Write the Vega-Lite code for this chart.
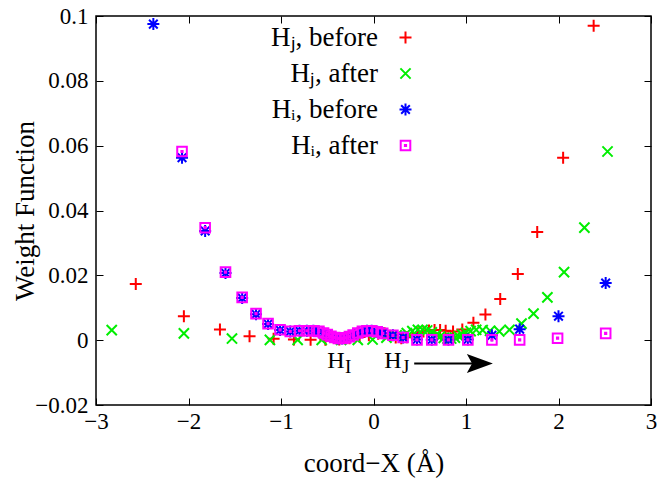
{
  "$schema": "https://vega.github.io/schema/vega-lite/v6.json",
  "width": 555,
  "height": 389,
  "autosize": {"type": "none"},
  "padding": {"left": 96, "top": 16, "right": 13, "bottom": 73},
  "background": "white",
  "config": {
    "view": {"stroke": "black", "strokeWidth": 1.5},
    "font": "Liberation Serif",
    "style": {
      "guide-label": {"font": "Liberation Serif", "fill": "black"},
      "guide-title": {"font": "Liberation Serif", "fill": "black"}
    },
    "axis": {
      "grid": false,
      "domain": false,
      "tickColor": "black",
      "tickWidth": 1,
      "labelFont": "Liberation Serif",
      "labelFontSize": 23,
      "labelColor": "black",
      "labelFlush": false,
      "labelOverlap": false,
      "titleFont": "Liberation Serif",
      "titleFontSize": 27,
      "titleFontWeight": "normal",
      "titleColor": "black"
    },
    "axisX": {"labelFont": "Liberation Serif", "labelFontSize": 23},
    "axisY": {"labelFont": "Liberation Serif", "labelFontSize": 23},
    "legend": {
      "orient": "none",
      "legendX": 296,
      "legendY": 8,
      "labelFont": "Liberation Serif",
      "labelFontSize": 27,
      "labelColor": "black",
      "labelAlign": "right",
      "labelOffset": -41,
      "labelLimit": 0,
      "symbolStrokeWidth": 2,
      "symbolSize": 144,
      "rowPadding": 8
    }
  },
  "datasets": {
    "weights": [
      {"series": "H_J, before", "x": -2.57, "y": 0.0173},
      {"series": "H_J, before", "x": -2.05, "y": 0.0074},
      {"series": "H_J, before", "x": -1.66, "y": 0.0033},
      {"series": "H_J, before", "x": -1.34, "y": 0.0012},
      {"series": "H_J, before", "x": -1.08, "y": 0.0004},
      {"series": "H_J, before", "x": -0.86, "y": 0.0002},
      {"series": "H_J, before", "x": -0.68, "y": 0.0001},
      {"series": "H_J, before", "x": -0.52, "y": 0.0001},
      {"series": "H_J, before", "x": -0.37, "y": 0.0002},
      {"series": "H_J, before", "x": -0.26, "y": 0.0006},
      {"series": "H_J, before", "x": -0.15, "y": 0.0010},
      {"series": "H_J, before", "x": -0.05, "y": 0.0015},
      {"series": "H_J, before", "x": 0.05, "y": 0.0020},
      {"series": "H_J, before", "x": 0.12, "y": 0.0021},
      {"series": "H_J, before", "x": 0.18, "y": 0.0014},
      {"series": "H_J, before", "x": 0.24, "y": 0.0008},
      {"series": "H_J, before", "x": 0.30, "y": 0.0006},
      {"series": "H_J, before", "x": 0.36, "y": 0.0009},
      {"series": "H_J, before", "x": 0.42, "y": 0.0015},
      {"series": "H_J, before", "x": 0.48, "y": 0.0021},
      {"series": "H_J, before", "x": 0.54, "y": 0.0027},
      {"series": "H_J, before", "x": 0.60, "y": 0.0030},
      {"series": "H_J, before", "x": 0.66, "y": 0.0031},
      {"series": "H_J, before", "x": 0.72, "y": 0.0031},
      {"series": "H_J, before", "x": 0.78, "y": 0.0029},
      {"series": "H_J, before", "x": 0.86, "y": 0.0027},
      {"series": "H_J, before", "x": 0.96, "y": 0.0033},
      {"series": "H_J, before", "x": 1.08, "y": 0.0054},
      {"series": "H_J, before", "x": 1.21, "y": 0.0079},
      {"series": "H_J, before", "x": 1.37, "y": 0.0127},
      {"series": "H_J, before", "x": 1.56, "y": 0.0204},
      {"series": "H_J, before", "x": 1.77, "y": 0.0334},
      {"series": "H_J, before", "x": 2.05, "y": 0.0563},
      {"series": "H_J, before", "x": 2.38, "y": 0.0970},

      {"series": "H_J, after", "x": -2.83, "y": 0.0031},
      {"series": "H_J, after", "x": -2.05, "y": 0.0021},
      {"series": "H_J, after", "x": -1.53, "y": 0.0005},
      {"series": "H_J, after", "x": -1.12, "y": 0.0001},
      {"series": "H_J, after", "x": -0.82, "y": 0.0001},
      {"series": "H_J, after", "x": -0.56, "y": 0.0001},
      {"series": "H_J, after", "x": -0.35, "y": 0.0001},
      {"series": "H_J, after", "x": -0.17, "y": 0.0001},
      {"series": "H_J, after", "x": -0.01, "y": 0.0002},
      {"series": "H_J, after", "x": 0.14, "y": 0.0008},
      {"series": "H_J, after", "x": 0.25, "y": 0.0015},
      {"series": "H_J, after", "x": 0.36, "y": 0.0022},
      {"series": "H_J, after", "x": 0.42, "y": 0.0028},
      {"series": "H_J, after", "x": 0.48, "y": 0.0032},
      {"series": "H_J, after", "x": 0.53, "y": 0.0032},
      {"series": "H_J, after", "x": 0.58, "y": 0.0030},
      {"series": "H_J, after", "x": 0.63, "y": 0.0024},
      {"series": "H_J, after", "x": 0.68, "y": 0.0017},
      {"series": "H_J, after", "x": 0.72, "y": 0.0011},
      {"series": "H_J, after", "x": 0.76, "y": 0.0007},
      {"series": "H_J, after", "x": 0.80, "y": 0.0005},
      {"series": "H_J, after", "x": 0.84, "y": 0.0005},
      {"series": "H_J, after", "x": 0.88, "y": 0.0008},
      {"series": "H_J, after", "x": 0.92, "y": 0.0012},
      {"series": "H_J, after", "x": 0.96, "y": 0.0017},
      {"series": "H_J, after", "x": 1.00, "y": 0.0023},
      {"series": "H_J, after", "x": 1.05, "y": 0.0028},
      {"series": "H_J, after", "x": 1.11, "y": 0.0032},
      {"series": "H_J, after", "x": 1.18, "y": 0.0031},
      {"series": "H_J, after", "x": 1.26, "y": 0.0029},
      {"series": "H_J, after", "x": 1.36, "y": 0.0027},
      {"series": "H_J, after", "x": 1.47, "y": 0.0032},
      {"series": "H_J, after", "x": 1.60, "y": 0.0051},
      {"series": "H_J, after", "x": 1.73, "y": 0.0082},
      {"series": "H_J, after", "x": 1.88, "y": 0.0132},
      {"series": "H_J, after", "x": 2.06, "y": 0.0210},
      {"series": "H_J, after", "x": 2.28, "y": 0.0347},
      {"series": "H_J, after", "x": 2.53, "y": 0.0582},

      {"series": "H_I, before", "x": -2.38, "y": 0.0975},
      {"series": "H_I, before", "x": -2.07, "y": 0.0563},
      {"series": "H_I, before", "x": -1.82, "y": 0.0337},
      {"series": "H_I, before", "x": -1.60, "y": 0.0207},
      {"series": "H_I, before", "x": -1.42, "y": 0.0130},
      {"series": "H_I, before", "x": -1.27, "y": 0.0080},
      {"series": "H_I, before", "x": -1.14, "y": 0.0050},
      {"series": "H_I, before", "x": -1.01, "y": 0.0031},
      {"series": "H_I, before", "x": -0.90, "y": 0.0027},
      {"series": "H_I, before", "x": -0.80, "y": 0.0029},
      {"series": "H_I, before", "x": -0.72, "y": 0.0029},
      {"series": "H_I, before", "x": -0.65, "y": 0.0029},
      {"series": "H_I, before", "x": -0.59, "y": 0.0027},
      {"series": "H_I, before", "x": -0.54, "y": 0.0022},
      {"series": "H_I, before", "x": -0.50, "y": 0.0017},
      {"series": "H_I, before", "x": -0.46, "y": 0.0012},
      {"series": "H_I, before", "x": -0.42, "y": 0.0008},
      {"series": "H_I, before", "x": -0.38, "y": 0.0005},
      {"series": "H_I, before", "x": -0.34, "y": 0.0005},
      {"series": "H_I, before", "x": -0.30, "y": 0.0007},
      {"series": "H_I, before", "x": -0.26, "y": 0.0011},
      {"series": "H_I, before", "x": -0.22, "y": 0.0016},
      {"series": "H_I, before", "x": -0.17, "y": 0.0022},
      {"series": "H_I, before", "x": -0.12, "y": 0.0027},
      {"series": "H_I, before", "x": -0.07, "y": 0.0029},
      {"series": "H_I, before", "x": -0.02, "y": 0.0029},
      {"series": "H_I, before", "x": 0.04, "y": 0.0026},
      {"series": "H_I, before", "x": 0.10, "y": 0.0021},
      {"series": "H_I, before", "x": 0.21, "y": 0.0015},
      {"series": "H_I, before", "x": 0.32, "y": 0.0008},
      {"series": "H_I, before", "x": 0.47, "y": 0.0002},
      {"series": "H_I, before", "x": 0.63, "y": 0.0001},
      {"series": "H_I, before", "x": 0.81, "y": 0.0001},
      {"series": "H_I, before", "x": 1.02, "y": 0.0002},
      {"series": "H_I, before", "x": 1.28, "y": 0.0015},
      {"series": "H_I, before", "x": 1.58, "y": 0.0034},
      {"series": "H_I, before", "x": 2.00, "y": 0.0074},
      {"series": "H_I, before", "x": 2.51, "y": 0.0176},

      {"series": "H_I, after", "x": -2.07, "y": 0.0582},
      {"series": "H_I, after", "x": -1.82, "y": 0.0347},
      {"series": "H_I, after", "x": -1.60, "y": 0.0210},
      {"series": "H_I, after", "x": -1.42, "y": 0.0132},
      {"series": "H_I, after", "x": -1.27, "y": 0.0082},
      {"series": "H_I, after", "x": -1.14, "y": 0.0051},
      {"series": "H_I, after", "x": -1.01, "y": 0.0032},
      {"series": "H_I, after", "x": -0.90, "y": 0.0027},
      {"series": "H_I, after", "x": -0.80, "y": 0.0029},
      {"series": "H_I, after", "x": -0.72, "y": 0.0029},
      {"series": "H_I, after", "x": -0.65, "y": 0.0029},
      {"series": "H_I, after", "x": -0.59, "y": 0.0027},
      {"series": "H_I, after", "x": -0.54, "y": 0.0022},
      {"series": "H_I, after", "x": -0.50, "y": 0.0017},
      {"series": "H_I, after", "x": -0.46, "y": 0.0012},
      {"series": "H_I, after", "x": -0.42, "y": 0.0008},
      {"series": "H_I, after", "x": -0.38, "y": 0.0005},
      {"series": "H_I, after", "x": -0.34, "y": 0.0005},
      {"series": "H_I, after", "x": -0.30, "y": 0.0007},
      {"series": "H_I, after", "x": -0.26, "y": 0.0011},
      {"series": "H_I, after", "x": -0.22, "y": 0.0016},
      {"series": "H_I, after", "x": -0.17, "y": 0.0022},
      {"series": "H_I, after", "x": -0.12, "y": 0.0027},
      {"series": "H_I, after", "x": -0.07, "y": 0.0029},
      {"series": "H_I, after", "x": -0.02, "y": 0.0029},
      {"series": "H_I, after", "x": 0.04, "y": 0.0026},
      {"series": "H_I, after", "x": 0.10, "y": 0.0021},
      {"series": "H_I, after", "x": 0.21, "y": 0.0015},
      {"series": "H_I, after", "x": 0.32, "y": 0.0008},
      {"series": "H_I, after", "x": 0.47, "y": 0.0001},
      {"series": "H_I, after", "x": 0.63, "y": 0.0001},
      {"series": "H_I, after", "x": 0.81, "y": 0.0001},
      {"series": "H_I, after", "x": 1.02, "y": 0.0001},
      {"series": "H_I, after", "x": 1.28, "y": 0.0001},
      {"series": "H_I, after", "x": 1.58, "y": 0.0001},
      {"series": "H_I, after", "x": 1.99, "y": 0.0006},
      {"series": "H_I, after", "x": 2.51, "y": 0.0021}
    ],
    "labels": [
      {"x": -0.405, "y": -0.0087, "main": "H", "sub": "I"},
      {"x": 0.21, "y": -0.0087, "main": "H", "sub": "J"}
    ],
    "arrow": [
      {"x": 0.44, "x2": 1.15, "y": -0.0072}
    ]
  },
  "resolve": {"axis": {"x": "independent", "y": "independent"}},
  "layer": [
    {
      "data": {"name": "weights"},
      "mark": {"type": "point", "filled": false, "strokeWidth": 2, "size": 144, "opacity": 1},
      "encoding": {
        "x": {
          "field": "x", "type": "quantitative",
          "scale": {"domain": [-3, 3], "nice": false, "zero": false},
          "axis": {"orient": "bottom", "values": [-3, -2, -1, 0, 1, 2, 3], "format": "~g", "tickSize": -7, "labelPadding": 12, "labelFont": "Liberation Serif", "labelFontSize": 23, "title": "coord−X (Å)", "titleFont": "Liberation Serif", "titleX": 277.5, "titleY": 58, "titleBaseline": "middle", "titleAlign": "center"}
        },
        "y": {
          "field": "y", "type": "quantitative",
          "scale": {"domain": [-0.02, 0.1], "nice": false, "zero": false},
          "axis": {"orient": "left", "values": [-0.02, 0, 0.02, 0.04, 0.06, 0.08, 0.1], "format": "~g", "tickSize": -7, "labelPadding": 15, "labelFont": "Liberation Serif", "labelFontSize": 23, "title": "Weight Function", "titleFont": "Liberation Serif", "titleX": -71, "titleY": 194.5, "titleBaseline": "middle", "titleAlign": "center", "titleAngle": -90}
        },
        "color": {
          "field": "series", "type": "nominal",
          "scale": {"domain": ["H_J, before", "H_J, after", "H_I, before", "H_I, after"], "range": ["#ff0000", "#00ee00", "#0000ff", "#ff00ff"]},
          "legend": {"title": null, "labelFont": "Liberation Serif", "labelExpr": "datum.label == 'H_J, before' ? 'Hⱼ, before' : datum.label == 'H_J, after' ? 'Hⱼ, after' : datum.label == 'H_I, before' ? 'Hᵢ, before' : 'Hᵢ, after'"}
        },
        "shape": {
          "field": "series", "type": "nominal",
          "scale": {"domain": ["H_J, before", "H_J, after", "H_I, before", "H_I, after"], "range": ["M-1,0L1,0M0,-1L0,1", "M-0.85,-0.85L0.85,0.85M-0.85,0.85L0.85,-0.85", "M-1,0L1,0M0,-1L0,1M-0.72,-0.72L0.72,0.72M-0.72,0.72L0.72,-0.72", "M-0.8,-0.8L0.8,-0.8L0.8,0.8L-0.8,0.8ZM-0.1,-0.1L0.1,-0.1L0.1,0.1L-0.1,0.1Z"]},
          "legend": {"title": null, "labelFont": "Liberation Serif", "labelExpr": "datum.label == 'H_J, before' ? 'Hⱼ, before' : datum.label == 'H_J, after' ? 'Hⱼ, after' : datum.label == 'H_I, before' ? 'Hᵢ, before' : 'Hᵢ, after'"}
        }
      }
    },
    {
      "data": {"name": "arrow"},
      "mark": {"type": "rule", "color": "black", "strokeWidth": 2},
      "encoding": {
        "x": {"field": "x", "type": "quantitative", "scale": {"domain": [-3, 3], "nice": false, "zero": false},
          "axis": {"orient": "top", "values": [-3, -2, -1, 0, 1, 2, 3], "tickSize": -7, "labels": false, "title": null}},
        "x2": {"field": "x2"},
        "y": {"field": "y", "type": "quantitative", "scale": {"domain": [-0.02, 0.1], "nice": false, "zero": false},
          "axis": {"orient": "right", "values": [-0.02, 0, 0.02, 0.04, 0.06, 0.08, 0.1], "tickSize": -7, "labels": false, "title": null}}
      }
    },
    {
      "data": {"name": "arrow"},
      "mark": {"type": "point", "shape": "M1,0L-1,-0.73L-0.6,0L-1,0.73Z", "size": 676, "filled": true, "color": "black", "opacity": 1},
      "encoding": {
        "x": {"field": "x2", "type": "quantitative", "axis": null},
        "y": {"field": "y", "type": "quantitative", "axis": null}
      }
    },
    {
      "data": {"name": "labels"},
      "mark": {"type": "text", "font": "Liberation Serif", "fontSize": 24, "baseline": "alphabetic", "align": "center", "color": "black"},
      "encoding": {
        "x": {"field": "x", "type": "quantitative", "axis": null},
        "y": {"field": "y", "type": "quantitative", "axis": null},
        "text": {"field": "main"}
      }
    },
    {
      "data": {"name": "labels"},
      "mark": {"type": "text", "font": "Liberation Serif", "fontSize": 19, "baseline": "alphabetic", "align": "left", "dx": 9, "dy": 5, "color": "black"},
      "encoding": {
        "x": {"field": "x", "type": "quantitative", "axis": null},
        "y": {"field": "y", "type": "quantitative", "axis": null},
        "text": {"field": "sub"}
      }
    }
  ]
}
